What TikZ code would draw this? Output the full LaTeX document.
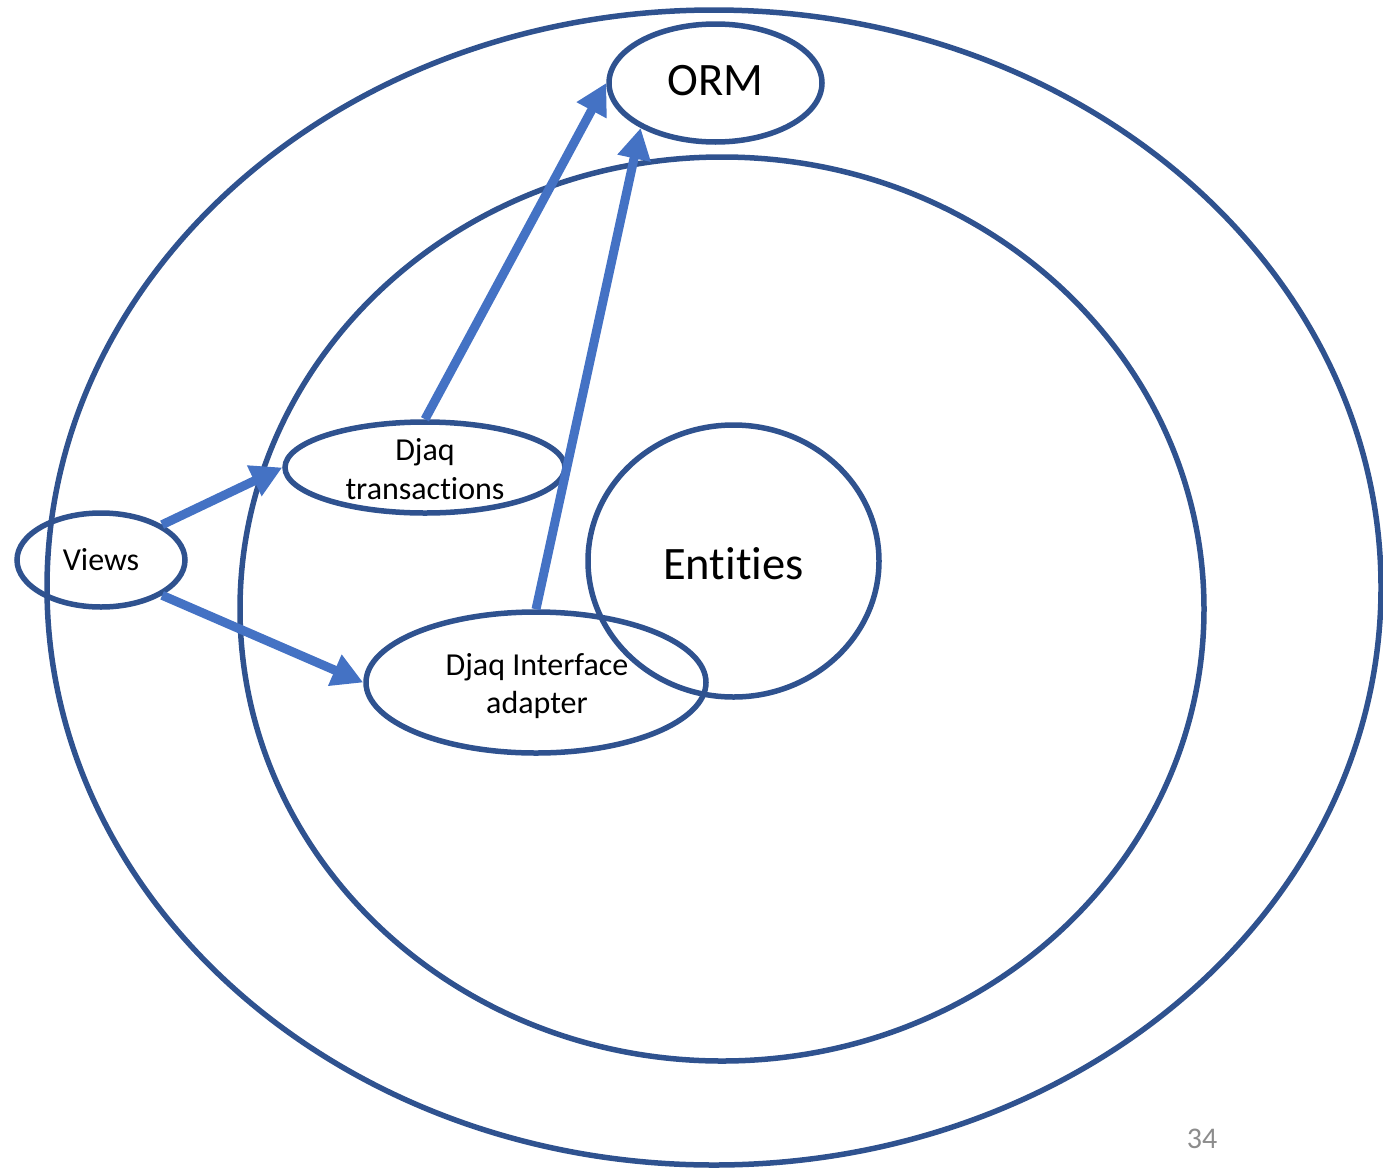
\documentclass[tikz,border=0pt]{standalone}
\usepackage{fontspec}
\setmainfont{Carlito}[Ligatures={NoCommon}]
\usetikzlibrary{shapes.geometric,arrows.meta}
\definecolor{ringblue}{HTML}{2F528F}
\definecolor{arrowblue}{HTML}{4472C4}
\definecolor{pagegray}{HTML}{8C8C8C}
\tikzset{
  ring/.style={draw=ringblue, line width=5.5pt, ellipse, inner sep=0pt, align=center},
  bigtext/.style={font=\fontsize{46.5}{55}\selectfont},
  smalltext/.style={font=\fontsize{32}{38.5}\selectfont, align=center, inner sep=0pt},
  flow/.style={draw=arrowblue, line width=9pt, -{Triangle[length=31pt,width=32pt]}}
}
\begin{document}
\begin{tikzpicture}[x=1pt,y=-1pt]
\useasboundingbox (0,0) rectangle (1383,1170);
\node[ring, minimum width=1334pt, minimum height=1155pt] (outer) at (714,587.5) {};
\node[ring, minimum width=964pt, minimum height=904pt] (inner) at (722,609) {};
\node[ring, minimum width=213pt, minimum height=118pt] (orm) at (715.5,83) {};
\node[bigtext] (ormtext) at (715.5,81) {ORM};
\node[ring, minimum width=291pt, minimum height=272pt] (ent) at (733.5,561) {};
\node[bigtext] (enttext) at (733.5,564) {Entities};
\node[ring, minimum width=280pt, minimum height=91pt] (dt) at (425,467.5) {};
\node[smalltext] (dttext) at (425,469) {Djaq\\transactions};
\node[ring, minimum width=340pt, minimum height=141pt] (dia) at (536,682.5) {};
\node[smalltext] (diatext) at (537,686) {Djaq Interface\\adapter};
\node[ring, minimum width=168pt, minimum height=94pt] (views) at (101,560) {};
\node[smalltext] (viewstext) at (101,560) {Views};
\node[font=\fontsize{30}{36}\selectfont, text=pagegray] (page) at (1202,1139) {34};
\draw[flow] (views.30) -- (dt.west);
\draw[flow] (views.-30) -- (dia.west);
\draw[flow] (dt.north) -- (orm.west);
\draw[flow] (dia.north) -- (orm.211);
\end{tikzpicture}
\end{document}
